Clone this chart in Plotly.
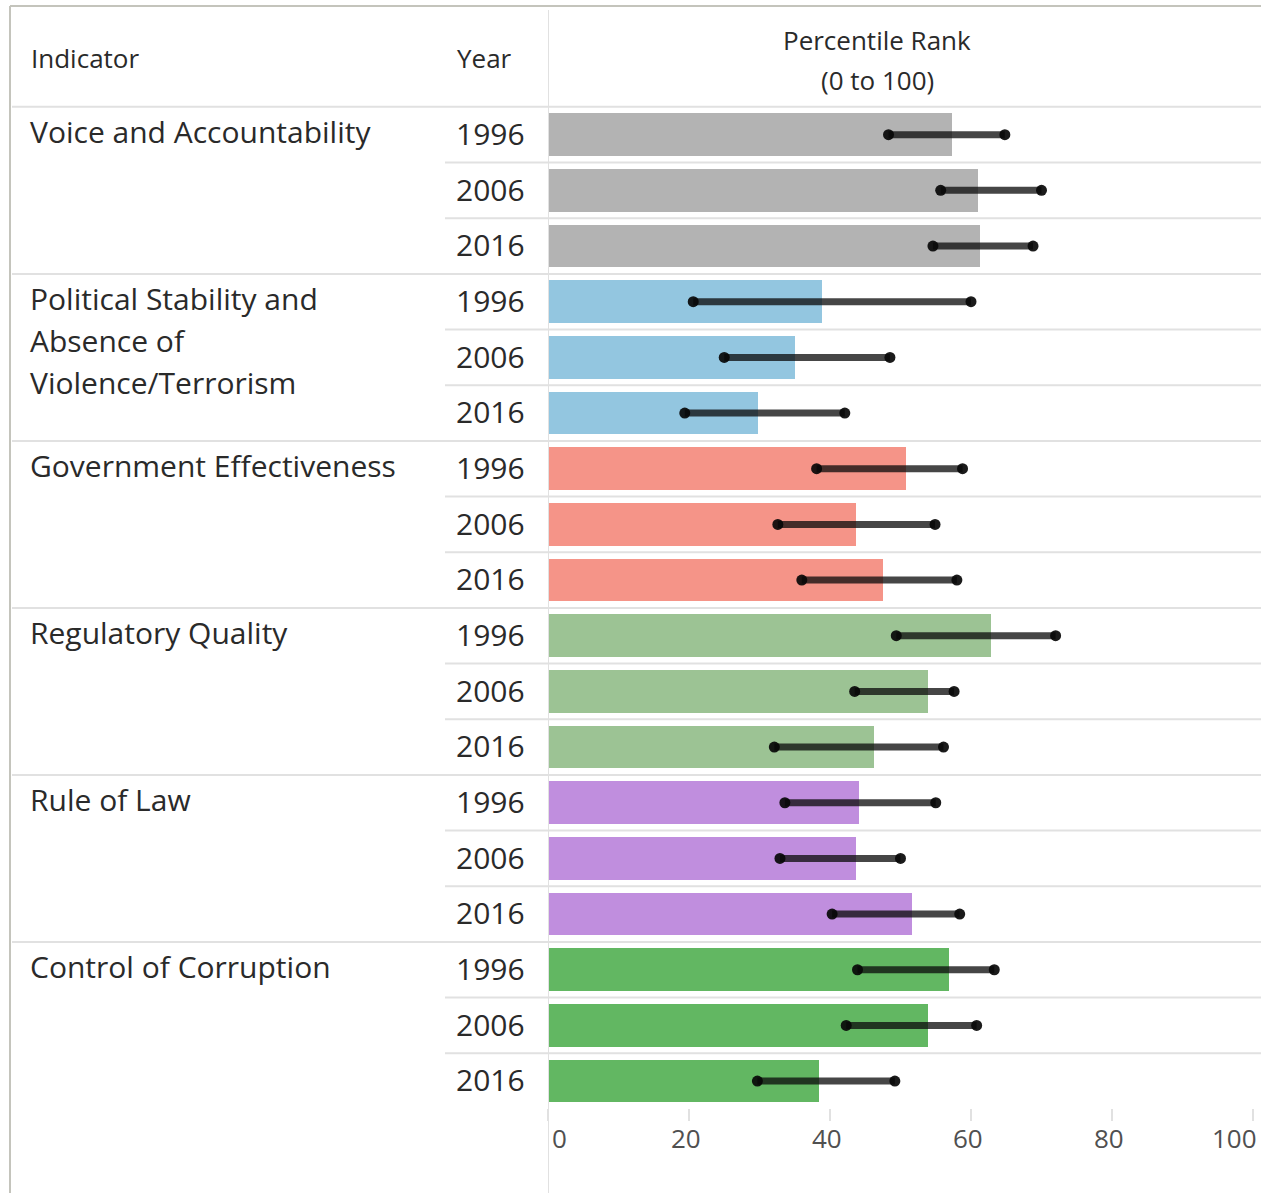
import plotly.graph_objects as go

# ---- data ----
indicators = ["Voice and Accountability",
              "Political Stability and Absence of Violence/Terrorism",
              "Government Effectiveness", "Regulatory Quality",
              "Rule of Law", "Control of Corruption"]
indicator_lines = [["Voice and Accountability"],
                   ["Political Stability and", "Absence of", "Violence/Terrorism"],
                   ["Government Effectiveness"], ["Regulatory Quality"],
                   ["Rule of Law"], ["Control of Corruption"]]
years = ["1996", "2006", "2016"]
rank = [57.3, 61.0, 61.3,
        38.9, 35.1, 29.8,
        50.8, 43.7, 47.5,
        62.8, 53.9, 46.3,
        44.1, 43.7, 51.6,
        56.9, 53.9, 38.4]
lower = [48.3, 55.7, 54.6,
         20.6, 25.0, 19.4,
         38.1, 32.6, 36.0,
         49.4, 43.5, 32.1,
         33.6, 32.9, 40.3,
         43.9, 42.3, 29.7]
upper = [64.8, 70.0, 68.8,
         60.0, 48.5, 42.1,
         58.8, 54.9, 58.0,
         72.0, 57.6, 56.1,
         55.0, 50.0, 58.4,
         63.3, 60.8, 49.2]
group_colors = ["#b3b3b3", "#93c6e0", "#f59488", "#9cc394", "#c08ede", "#62b762"]
tick_vals = [0, 20, 40, 60, 80, 100]
tick_text = ["0", "20", "40", "60", "80", "100"]

W, H = 1261, 1193
TEXT = "#2a2a2a"
FONT = "Open Sans"
GRID = "#e1e1e1"

n_rows = len(rank)
rows = list(range(n_rows))
bar_colors = [group_colors[i // 3] for i in rows]

fig = go.Figure()
fig.add_trace(go.Bar(
    orientation="h", y=rows, x=rank, width=0.767,
    marker=dict(color=bar_colors, line=dict(width=0)),
    hoverinfo="skip", showlegend=False))

ex, ey = [], []
for i in rows:
    ex += [lower[i], upper[i], None]
    ey += [i, i, None]
fig.add_trace(go.Scatter(
    x=ex, y=ey, mode="lines+markers",
    line=dict(color="rgba(12,12,12,0.76)", width=7),
    marker=dict(color="rgba(8,8,8,0.92)", size=11),
    hoverinfo="skip", showlegend=False))

x0 = 548 / W
y_bottom_px = 1108
row_px, row0_px = 55.67, 134.7
y_lo = (y_bottom_px - row0_px) / row_px
y_hi = (0 - row0_px) / row_px

shapes = []
for k in range(n_rows + 1):
    full = (k % 3 == 0)
    shapes.append(dict(type="line", xref="paper", yref="y",
                       x0=(12 / W) if full else (445 / W), x1=1,
                       y0=k - 0.5, y1=k - 0.5,
                       line=dict(color=GRID, width=2)))
shapes.append(dict(type="line", xref="x", yref="paper", x0=0, x1=0,
                   y0=0, y1=1 - 10 / H, line=dict(color=GRID, width=2)))
shapes.append(dict(type="line", xref="paper", yref="paper",
                   x0=10 / W, x1=1, y0=1 - 6 / H, y1=1 - 6 / H,
                   line=dict(color="#c4c4bc", width=2)))
shapes.append(dict(type="line", xref="paper", yref="paper",
                   x0=10 / W, x1=10 / W, y0=0, y1=1 - 6 / H,
                   line=dict(color="#c4c4bc", width=2)))

ann = []
def txt(text, x, y, xref="paper", yref="paper", xanchor="left", size=30, color=TEXT, yanchor="middle"):
    ann.append(dict(text=text, x=x, y=y, xref=xref, yref=yref, xanchor=xanchor,
                    yanchor=yanchor, showarrow=False,
                    font=dict(family=FONT, size=size, color=color)))

txt("Indicator", 29 / W, 1 - 58 / H, size=26)
txt("Year", 455 / W, 1 - 58 / H, size=26)
txt("Percentile Rank", 877 / W, 1 - 40 / H, xanchor="center", size=26)
txt("(0 to 100)", 877 / W, 1 - 80 / H, xanchor="center", size=26)

line_step = 42 / row_px
for g, lines in enumerate(indicator_lines):
    for j, ln in enumerate(lines):
        txt(ln, 28 / W, g * 3 + j * line_step - 0.05, yref="y")
for i in rows:
    txt(years[i % 3], 527 / W, i - 0.02, yref="y", xanchor="right")

for v, t in zip(tick_vals, tick_text):
    xa = "left" if v == 0 else ("right" if v == 100 else "center")
    xv = v + (0.3 if v == 0 else 0) + (0.9 if v == 100 else 0) - (0.4 if 0 < v < 100 else 0)
    txt(t, xv, 1 - 1138 / H, xref="x", xanchor=xa, size=26, color="#505050")

fig.update_layout(
    width=W, height=H, margin=dict(l=0, r=0, t=0, b=0),
    paper_bgcolor="white", plot_bgcolor="white",
    bargap=0, hovermode=False,
    xaxis=dict(domain=[x0, 1], range=[0, (W - 548) / 7.05],
               tickvals=tick_vals, showticklabels=False,
               ticks="outside", ticklen=12, tickwidth=2, tickcolor=GRID,
               showgrid=False, zeroline=False, showline=False, fixedrange=True),
    yaxis=dict(domain=[(H - y_bottom_px) / H, 1], range=[y_lo, y_hi],
               showticklabels=False, showgrid=False, zeroline=False,
               showline=False, fixedrange=True),
    shapes=shapes, annotations=ann,
)

fig.write_html("out.html", config={"displayModeBar": False},
               post_script="document.body.style.margin='0';document.body.style.overflow='hidden';")
